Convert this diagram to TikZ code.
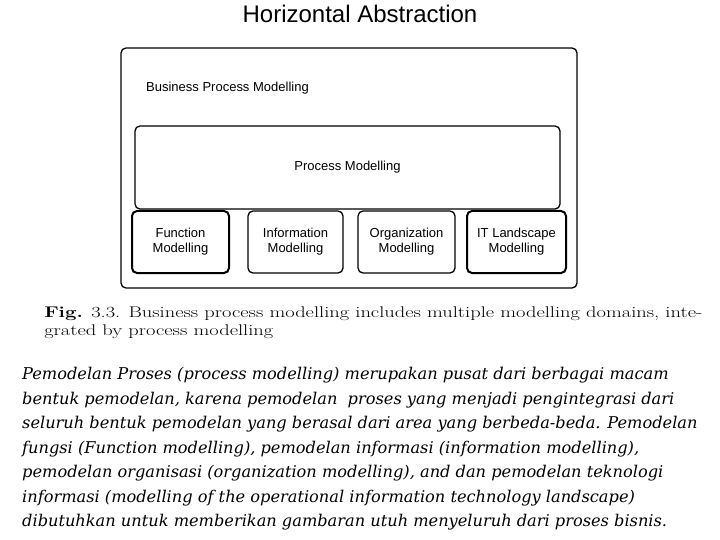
\documentclass[tikz,border=0pt]{standalone}
\usepackage{fontspec}
\usetikzlibrary{positioning}
\newfontfamily\arialfont{Liberation Sans}
\newfontfamily\slabfont{DejaVu Serif}
\tikzset{
  box/.style={draw, rounded corners=5pt, line width=1.3pt},
  thickbox/.style={box, line width=2pt},
  lbl/.style={font=\arialfont\fontsize{13}{15}\selectfont, align=center, inner sep=0pt}
}

\begin{document}
\begin{tikzpicture}[x=1pt,y=-1pt]
            \useasboundingbox (0,0) rectangle (720,540);
            % title
            \node (Title) at (360,14) {\arialfont\fontsize{24}{26}\selectfont Horizontal Abstraction};
            % outer box
            \node[box, minimum width=456pt, minimum height=240pt] (BPM) at (349,168) {};
            \node[lbl, anchor=west] (BPMText) at (146,88) {Business Process Modelling};
            % process modelling
            \node[box, minimum width=425pt, minimum height=83pt] (PM) at (347.5,167.5) {};
            \node[lbl] (PMText) at (PM) {Process Modelling};
            % domains
            \node[thickbox, minimum width=97pt, minimum height=62pt] (FM) at (180.5,242) {};
            \node[box, minimum width=95pt, minimum height=62pt] (IM) at (295.5,242) {};
            \node[box, minimum width=97pt, minimum height=62pt] (OM) at (406.5,242) {};
            \node[thickbox, minimum width=99pt, minimum height=62pt] (ITM) at (516.5,242) {};
            \node[lbl] at (FM) {Function\\Modelling};
            \node[lbl] at (IM) {Information\\Modelling};
            \node[lbl] at (OM) {Organization\\Modelling};
            \node[lbl] at (ITM) {IT Landscape\\Modelling};
            % caption
            \coordinate (CapNW) at (44,307);
            \node[anchor=north west, align=left, inner sep=0pt, xscale=1.32, transform shape, font=\fontsize{15.5}{18}\selectfont] (Caption) at (CapNW)
              {\textbf{Fig.} 3.3. Business process modelling includes multiple modelling domains, inte-\\grated by process modelling};
            % paragraph
            \node[anchor=north west, align=left, inner sep=0pt, font=\slabfont\itshape\fontsize{16.2}{24.5}\selectfont] (Para) at (22,367)
              {Pemodelan Proses (process modelling) merupakan pusat dari berbagai macam\\
               bentuk pemodelan, karena pemodelan\ \ proses yang menjadi pengintegrasi dari\\
               seluruh bentuk pemodelan yang berasal dari area yang berbeda-beda. Pemodelan\\
               fungsi (Function modelling), pemodelan informasi (information modelling),\\
               pemodelan organisasi (organization modelling), and dan pemodelan teknologi\\
               informasi (modelling of the operational information technology landscape)\\
               dibutuhkan untuk memberikan gambaran utuh menyeluruh dari proses bisnis.};
\end{tikzpicture}
\end{document}
